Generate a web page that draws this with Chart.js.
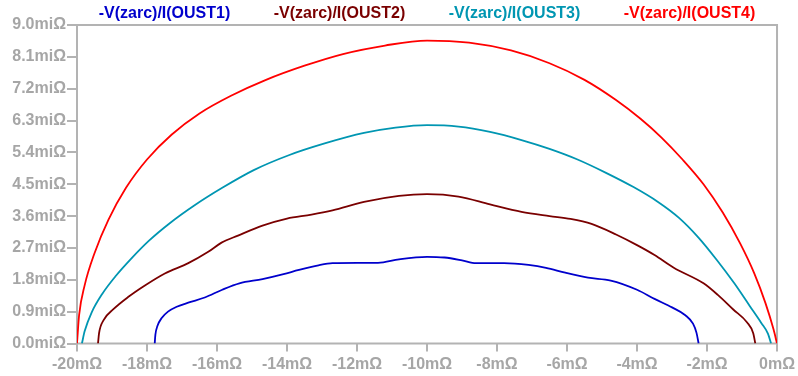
<!DOCTYPE html>
<html>
<head>
<meta charset="utf-8">
<script src="https://cdn.jsdelivr.net/npm/chart.js@4.4.1/dist/chart.umd.min.js"></script>
<style>
  html, body { margin: 0; padding: 0; background: #ffffff; }
  #wrap { width: 798px; height: 376px; }
</style>
</head>
<body>
<div id="wrap"><canvas id="nyquist" width="798" height="376"></canvas></div>
<script>
// Trace names and colours
const traceNames = ['-V(zarc)/I(OUST1)', '-V(zarc)/I(OUST2)', '-V(zarc)/I(OUST3)', '-V(zarc)/I(OUST4)'];
const traceColors = ['#0000cc', '#7a0000', '#0096b2', '#ff0000'];

// Axis ticks
const xTicks = [-20, -18, -16, -14, -12, -10, -8, -6, -4, -2, 0];
const yTicks = [0, 0.9, 1.8, 2.7, 3.6, 4.5, 5.4, 6.3, 7.2, 8.1, 9.0];

// OUST1: real part (mΩ) and imaginary part (miΩ)
const oust1Re = [-17.78, -17.76, -17.70, -17.58, -17.40, -17.15, -16.80, -16.35, -15.85, -15.36, -14.70, -14.10, -13.66, -13.10, -12.70, -12.00, -11.40, -10.80, -10.00, -9.50, -9.00, -8.60, -7.80, -7.10, -6.60, -6.05, -5.40, -4.75, -4.00, -3.50, -3.00, -2.62, -2.40, -2.30, -2.24];
const oust1Im = [0, 0.25, 0.50, 0.72, 0.90, 1.04, 1.16, 1.30, 1.52, 1.70, 1.82, 1.96, 2.08, 2.21, 2.27, 2.28, 2.28, 2.38, 2.45, 2.43, 2.35, 2.27, 2.27, 2.22, 2.14, 2.00, 1.86, 1.78, 1.52, 1.26, 1.02, 0.80, 0.56, 0.30, 0];

// OUST2
const oust2Re = [-19.40, -19.37, -19.24, -18.96, -18.53, -18.06, -17.49, -16.82, -16.25, -15.87, -15.40, -14.70, -14.00, -13.30, -12.70, -11.80, -10.80, -10.00, -9.10, -8.20, -7.30, -6.50, -5.90, -5.30, -4.60, -4.00, -3.50, -2.95, -2.10, -1.70, -1.25, -0.86, -0.68, -0.62];
const oust2Im = [0, 0.29, 0.66, 0.97, 1.32, 1.64, 1.98, 2.27, 2.59, 2.85, 3.05, 3.33, 3.53, 3.64, 3.76, 4.00, 4.17, 4.22, 4.15, 3.93, 3.72, 3.60, 3.52, 3.38, 3.08, 2.78, 2.50, 2.14, 1.70, 1.38, 0.96, 0.60, 0.29, 0];

// OUST3
const oust3Re = [-19.86, -19.78, -19.58, -19.28, -18.90, -18.45, -17.95, -17.35, -16.65, -15.85, -14.95, -13.95, -12.90, -11.80, -10.90, -10.00, -9.10, -8.20, -7.30, -6.50, -5.70, -4.90, -4.10, -3.40, -2.80, -2.25, -1.72, -1.22, -0.78, -0.45, -0.26, -0.17];
const oust3Im = [0, 0.35, 0.88, 1.40, 1.90, 2.40, 2.90, 3.40, 3.90, 4.40, 4.90, 5.32, 5.66, 5.95, 6.10, 6.17, 6.13, 5.98, 5.75, 5.50, 5.20, 4.83, 4.42, 4.00, 3.55, 3.00, 2.36, 1.70, 1.06, 0.58, 0.28, 0];

// OUST4
const oust4Re = [-20.00, -19.94, -19.78, -19.50, -19.10, -18.60, -18.00, -17.30, -16.50, -15.60, -14.60, -13.50, -12.40, -11.20, -10.00, -8.80, -7.60, -6.50, -5.50, -4.60, -3.90, -3.30, -2.70, -2.10, -1.55, -1.05, -0.65, -0.33, -0.10, 0.00];
const oust4Im = [0, 0.80, 1.65, 2.55, 3.50, 4.40, 5.20, 5.90, 6.50, 7.00, 7.45, 7.85, 8.18, 8.42, 8.56, 8.50, 8.28, 7.92, 7.45, 6.88, 6.35, 5.82, 5.20, 4.50, 3.70, 2.82, 1.98, 1.14, 0.40, 0];

const reSeries = [oust1Re, oust2Re, oust3Re, oust4Re];
const imSeries = [oust1Im, oust2Im, oust3Im, oust4Im];

const FONT_FAMILY = '"Liberation Sans", Arial, Helvetica, sans-serif';
const AXIS_GRAY = '#b3b3b3';
const LABEL_GRAY = '#a6a6a6';

const datasets = traceNames.map((name, i) => ({
  label: name,
  data: reSeries[i].map((re, k) => ({ x: re, y: imSeries[i][k] })),
  borderColor: traceColors[i],
  backgroundColor: traceColors[i],
  borderWidth: 1.8,
  pointRadius: 0,
  showLine: true,
  cubicInterpolationMode: 'monotone',
  fill: false
}));

// Grey frame around the plotting area
const plotFrame = {
  id: 'plotFrame',
  beforeDatasetsDraw(chart) {
    const { ctx, chartArea: a } = chart;
    ctx.save();
    ctx.strokeStyle = AXIS_GRAY;
    ctx.lineWidth = 2;
    ctx.strokeRect(a.left, a.top, a.right - a.left, a.bottom - a.top);
    ctx.restore();
  }
};

// Trace names in their colours, spread evenly above the plot
const traceTitles = {
  id: 'traceTitles',
  afterDraw(chart) {
    const { ctx, chartArea: a } = chart;
    const sets = chart.data.datasets;
    const slot = (a.right - a.left) / sets.length;
    ctx.save();
    ctx.font = 'bold 16px ' + FONT_FAMILY;
    ctx.textAlign = 'center';
    ctx.textBaseline = 'middle';
    sets.forEach((ds, i) => {
      ctx.fillStyle = ds.borderColor;
      ctx.fillText(ds.label, a.left + slot * (i + 0.5), 14);
    });
    ctx.restore();
  }
};

new Chart(document.getElementById('nyquist'), {
  type: 'scatter',
  data: { datasets },
  plugins: [plotFrame, traceTitles],
  options: {
    responsive: false,
    animation: false,
    layout: { padding: { top: 25, right: 18, left: 0, bottom: 0 } },
    plugins: { legend: { display: false }, tooltip: { enabled: false } },
    scales: {
      x: {
        type: 'linear',
        min: -20, max: 0,
        afterBuildTicks(scale) { scale.ticks = xTicks.map(v => ({ value: v })); },
        afterFit(scale) { scale.height = 32.5; },
        border: { display: false },
        grid: { drawOnChartArea: false, drawTicks: true, tickLength: 8, color: AXIS_GRAY, lineWidth: 2 },
        ticks: {
          padding: 3,
          color: LABEL_GRAY,
          font: { family: FONT_FAMILY, size: 16, weight: 'bold' },
          maxRotation: 0,
          autoSkip: false,
          callback: v => v + 'mΩ'
        }
      },
      y: {
        type: 'linear',
        min: 0, max: 9,
        afterBuildTicks(scale) { scale.ticks = yTicks.map(v => ({ value: v })); },
        afterFit(scale) { scale.width = 77; },
        border: { display: false },
        grid: { drawOnChartArea: false, drawTicks: true, tickLength: 10, color: AXIS_GRAY, lineWidth: 2 },
        ticks: {
          padding: 1,
          color: LABEL_GRAY,
          font: { family: FONT_FAMILY, size: 16, weight: 'bold' },
          autoSkip: false,
          callback: v => Number(v).toFixed(1) + 'miΩ'
        }
      }
    }
  }
});
</script>
</body>
</html>
